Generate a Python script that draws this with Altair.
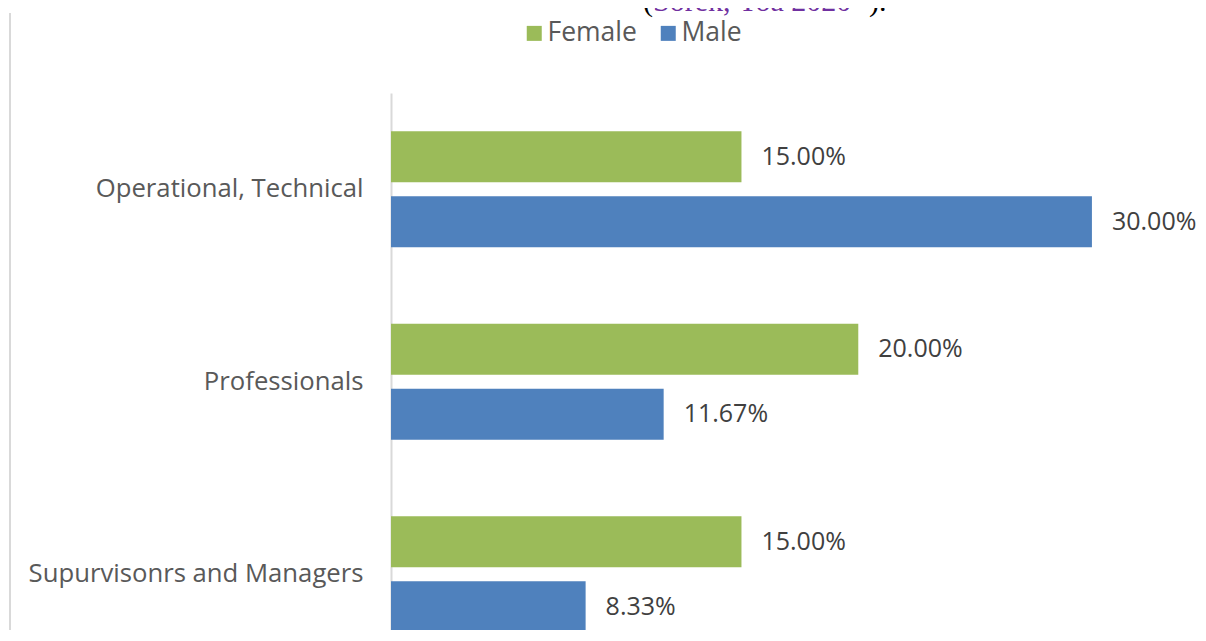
import altair as alt
import pandas as pd

categories = ["Operational, Technical", "Professionals", "Supurvisonrs and Managers"]
genders = ["Female", "Male"]
female_values = [0.15, 0.20, 0.15]
male_values = [0.30, 0.1167, 0.0833]
colors = ["#9BBB59", "#4F81BD"]

rows = []
for c, f, m in zip(categories, female_values, male_values):
    rows.append({"category": c, "gender": "Female", "value": f})
    rows.append({"category": c, "gender": "Male", "value": m})
df = pd.DataFrame(rows)

FONT = "Open Sans"

y = alt.Y(
    "category:N",
    sort=categories,
    scale=alt.Scale(range=[0, 577.5], paddingInner=0, paddingOuter=0),
    axis=alt.Axis(
        title=None, ticks=False, domainColor="#d9d9d9", domainWidth=2,
        labelFont=FONT, labelFontSize=25.7, labelColor="#595959",
        labelPadding=28, labelLimit=400,
    ),
)
yoff = alt.YOffset("gender:N", sort=genders,
                   scale=alt.Scale(paddingInner=0.215, paddingOuter=0.589))
x = alt.X("value:Q", scale=alt.Scale(domain=[0, 0.3454], nice=False), axis=None)

base = alt.Chart(df)
bars = base.mark_bar().encode(
    x=x, y=y, yOffset=yoff,
    color=alt.Color(
        "gender:N", sort=genders,
        scale=alt.Scale(domain=genders, range=colors),
        legend=alt.Legend(
            orient="none", legendX=130, legendY=-73, direction="horizontal",
            title=None, symbolType="square", symbolSize=225, symbolStrokeWidth=0,
            labelFont=FONT, labelFontSize=26.5, labelColor="#595959",
            columnPadding=18, labelOffset=0,
        ),
    ),
)
labels = base.mark_text(
    align="left", baseline="middle", dx=20, font=FONT, fontSize=25, color="#404040"
).encode(x=x, y=y, yOffset=yoff, text=alt.Text("value:Q", format=".2%"))

one = pd.DataFrame({"a": [0]})
frame = alt.Chart(one).mark_rule(color="#d9d9d9", strokeWidth=2).encode(
    x=alt.value(-381), y=alt.value(-80), y2=alt.value(700)
)
cite_open = alt.Chart(one).mark_text(
    align="left", baseline="alphabetic", font="Liberation Serif", fontSize=30, color="#000000"
).encode(x=alt.value(252), y=alt.value(-82), text=alt.value("("))
cite = alt.Chart(one).mark_text(
    align="left", baseline="alphabetic", font="Liberation Serif", fontSize=30, color="#7030A0"
).encode(x=alt.value(262), y=alt.value(-82), text=alt.value("Sorek, Yoa 2020"))
cite_close = alt.Chart(one).mark_text(
    align="left", baseline="alphabetic", font="Liberation Serif", fontSize=30, color="#000000"
).encode(x=alt.value(478), y=alt.value(-82), text=alt.value(")."))

chart = alt.layer(bars, labels, frame, cite_open, cite, cite_close).properties(
    width=807, height=537,
    autosize=alt.AutoSizeParams(type="none"),
    padding={"left": 383, "top": 85, "right": 0, "bottom": 0},
).configure_view(stroke=None)

chart.save("out.html", embed_options={"renderer": "svg", "actions": False})
